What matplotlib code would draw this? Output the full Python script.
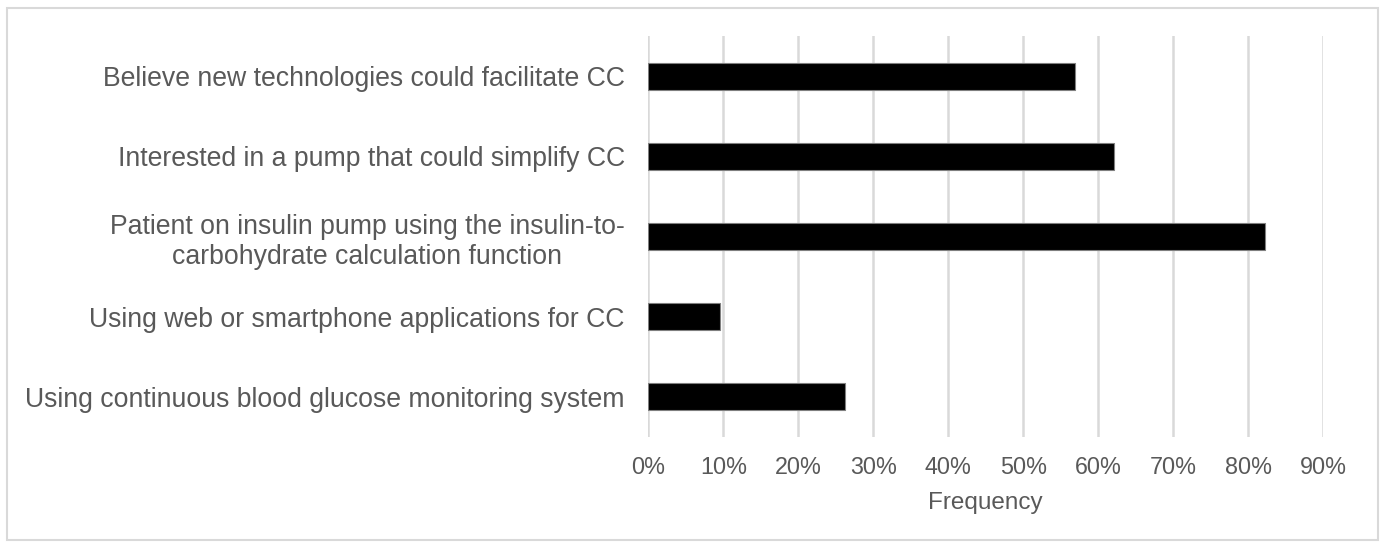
import matplotlib
matplotlib.use("Agg")
import matplotlib.pyplot as plt
from matplotlib.patches import Rectangle
from matplotlib.ticker import FuncFormatter

categories = [
    "Believe new technologies could facilitate CC",
    "Interested in a pump that could simplify CC",
    "Patient on insulin pump using the insulin-to-\ncarbohydrate calculation function",
    "Using web or smartphone applications for CC",
    "Using continuous blood glucose monitoring system",
]
values = [0.569, 0.621, 0.822, 0.095, 0.262]
xticks = [0.0, 0.1, 0.2, 0.3, 0.4, 0.5, 0.6, 0.7, 0.8, 0.9]

plt.rcParams['font.family'] = ['Liberation Sans', 'DejaVu Sans']
grey = '#595959'

fig = plt.figure(figsize=(13.85, 5.45), dpi=100)
ax = fig.add_axes([648.3/1385, 1-437/545, (1323-648.3)/1385, (437-36)/545])

ypos = list(range(len(categories)))
ax.barh(ypos, values, height=0.336, color='black', edgecolor='#7f7f7f', linewidth=0.8, zorder=3)
ax.set_ylim(len(categories)-0.5, -0.5)
ax.set_xlim(0, 0.9)
ax.set_yticks(ypos)
ax.set_yticklabels(categories, fontsize=19.2, color=grey, linespacing=1.25,
                   multialignment='center')
ax.set_xticks(xticks)
ax.xaxis.set_major_formatter(FuncFormatter(lambda v, p: f"{round(v*100)}%"))
ax.tick_params(axis='x', labelsize=16.8, labelcolor=grey, length=0, pad=14)
ax.tick_params(axis='y', length=0, pad=17)
ax.grid(axis='x', color='#d9d9d9', linewidth=1.8, zorder=0)
for s in ax.spines.values():
    s.set_visible(False)
ax.set_xlabel("Frequency", fontsize=17.5, color=grey, labelpad=9)

fig.patches.append(Rectangle((7/1385, 1-540/545), (1378-7)/1385, (540-8)/545,
                             transform=fig.transFigure, fill=False,
                             edgecolor='#d9d9d9', linewidth=1.5))
fig.savefig("out.png", dpi=100)
